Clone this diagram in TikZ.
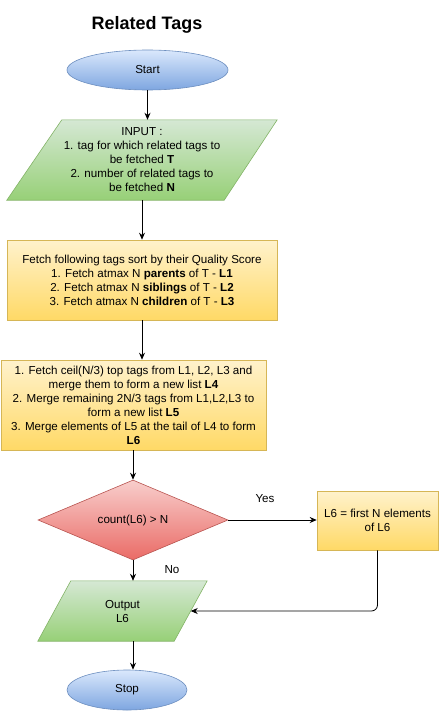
\documentclass[tikz,border=0pt]{standalone}
\usepackage{fontspec}
\setmainfont{Liberation Sans}
\usetikzlibrary{shapes.geometric,arrows.meta,calc}
\definecolor{blueT}{HTML}{DAE8FC}\definecolor{blueB}{HTML}{7EA6E0}\definecolor{blueS}{HTML}{6C8EBF}
\definecolor{greenT}{HTML}{D5E8D4}\definecolor{greenB}{HTML}{97D077}\definecolor{greenS}{HTML}{82B366}
\definecolor{yelT}{HTML}{FFF2CC}\definecolor{yelB}{HTML}{FFD966}\definecolor{yelS}{HTML}{D6B656}
\definecolor{redT}{HTML}{F8CECC}\definecolor{redB}{HTML}{EA6B66}\definecolor{redS}{HTML}{B85450}
\pgfdeclarelayer{background}\pgfsetlayers{background,main}
\begin{document}
\begin{tikzpicture}[x=1pt,y=-1pt,
  font=\fontsize{11.6}{14}\selectfont,
  arr/.style={-{Stealth[length=7pt,width=6pt]}, line width=0.8pt},
  bluefill/.style={top color=blueT, bottom color=blueB, draw=blueS, line width=0.6pt},
  greenfill/.style={top color=greenT, bottom color=greenB, draw=greenS, line width=0.6pt},
  yelfill/.style={top color=yelT, bottom color=yelB, draw=yelS, line width=0.6pt},
  redfill/.style={top color=redT, bottom color=redB, draw=redS, line width=0.6pt},
  txt/.style={inner sep=0pt, align=center},
  lbl/.style={inner sep=0pt}]
\useasboundingbox (0,0) rectangle (439,712);

\node[lbl, font=\fontsize{18}{20}\selectfont\bfseries] (title) at (147,25) {Related Tags};

\node[ellipse, bluefill, minimum width=161pt, minimum height=40pt, inner sep=0pt] (start) at (147.5,70) {Start};

\node[txt, minimum width=270pt, minimum height=80pt] (input) at (142,160)
  {INPUT :\\1. tag for which related tags to\\be fetched \textbf{T}\\2. number of related tags to\\be fetched \textbf{N}};

\node[txt, rectangle, yelfill, minimum width=270pt, minimum height=80pt] (fetch) at (142,280)
  {Fetch following tags sort by their Quality Score\\1. Fetch atmax N \textbf{parents} of T - \textbf{L1}\\2. Fetch atmax N \textbf{siblings} of T - \textbf{L2}\\3. Fetch atmax N \textbf{children} of T - \textbf{L3}};

\node[txt, rectangle, yelfill, minimum width=265pt, minimum height=90pt] (merge) at (133.5,405)
  {1. Fetch ceil(N/3) top tags from L1, L2, L3 and\\merge them to form a new list \textbf{L4}\\2. Merge remaining 2N/3 tags from L1,L2,L3 to\\form a new list \textbf{L5}\\3. Merge elements of L5 at the tail of L4 to form\\\textbf{L6}};

\node[diamond, redfill, aspect=2.375, inner sep=0pt, minimum width=190pt, minimum height=80pt] (dec) at (133,520) {count(L6) > N};

\node[txt, rectangle, yelfill, minimum width=121pt, minimum height=59pt] (lbox) at (377.5,520.5)
  {L6 = first N elements\\of L6};

\node[txt, minimum width=169pt, minimum height=60pt] (output) at (122.5,611) {Output\\L6};

\node[ellipse, bluefill, minimum width=120pt, minimum height=40pt, inner sep=0pt] (stop) at (127,690) {Stop};

\node[lbl] (yes) at (265,499) {Yes};
\node[lbl] (no) at (172,570) {No};

\begin{pgfonlayer}{background}
\path[greenfill] ($(input.north west)+(55,0)$) -- (input.north east) -- ($(input.south east)+(-53,0)$) -- (input.south west) -- cycle;
\path[greenfill] ($(output.north west)+(33,0)$) -- (output.north east) -- ($(output.south east)+(-33,0)$) -- (output.south west) -- cycle;
\end{pgfonlayer}

\coordinate (outin) at ($(output.north east)!0.5!($(output.south east)+(-33,0)$)$);

\draw[arr] (start.south) -- (start.south |- input.north);
\draw[arr] (input.south) -- (fetch.north);
\draw[arr] (fetch.south) -- (fetch.south |- merge.north);
\draw[arr] (merge.south -| dec.north) -- (dec.north);
\draw[arr] (dec.east) -- (lbox.west |- dec.east);
\draw[arr] (dec.south) -- (dec.south |- output.north);
\draw[arr, rounded corners=6pt] (lbox.south) |- (outin);
\draw[arr] (dec.south |- output.south) -- (dec.south |- stop.north);
\end{tikzpicture}
\end{document}
